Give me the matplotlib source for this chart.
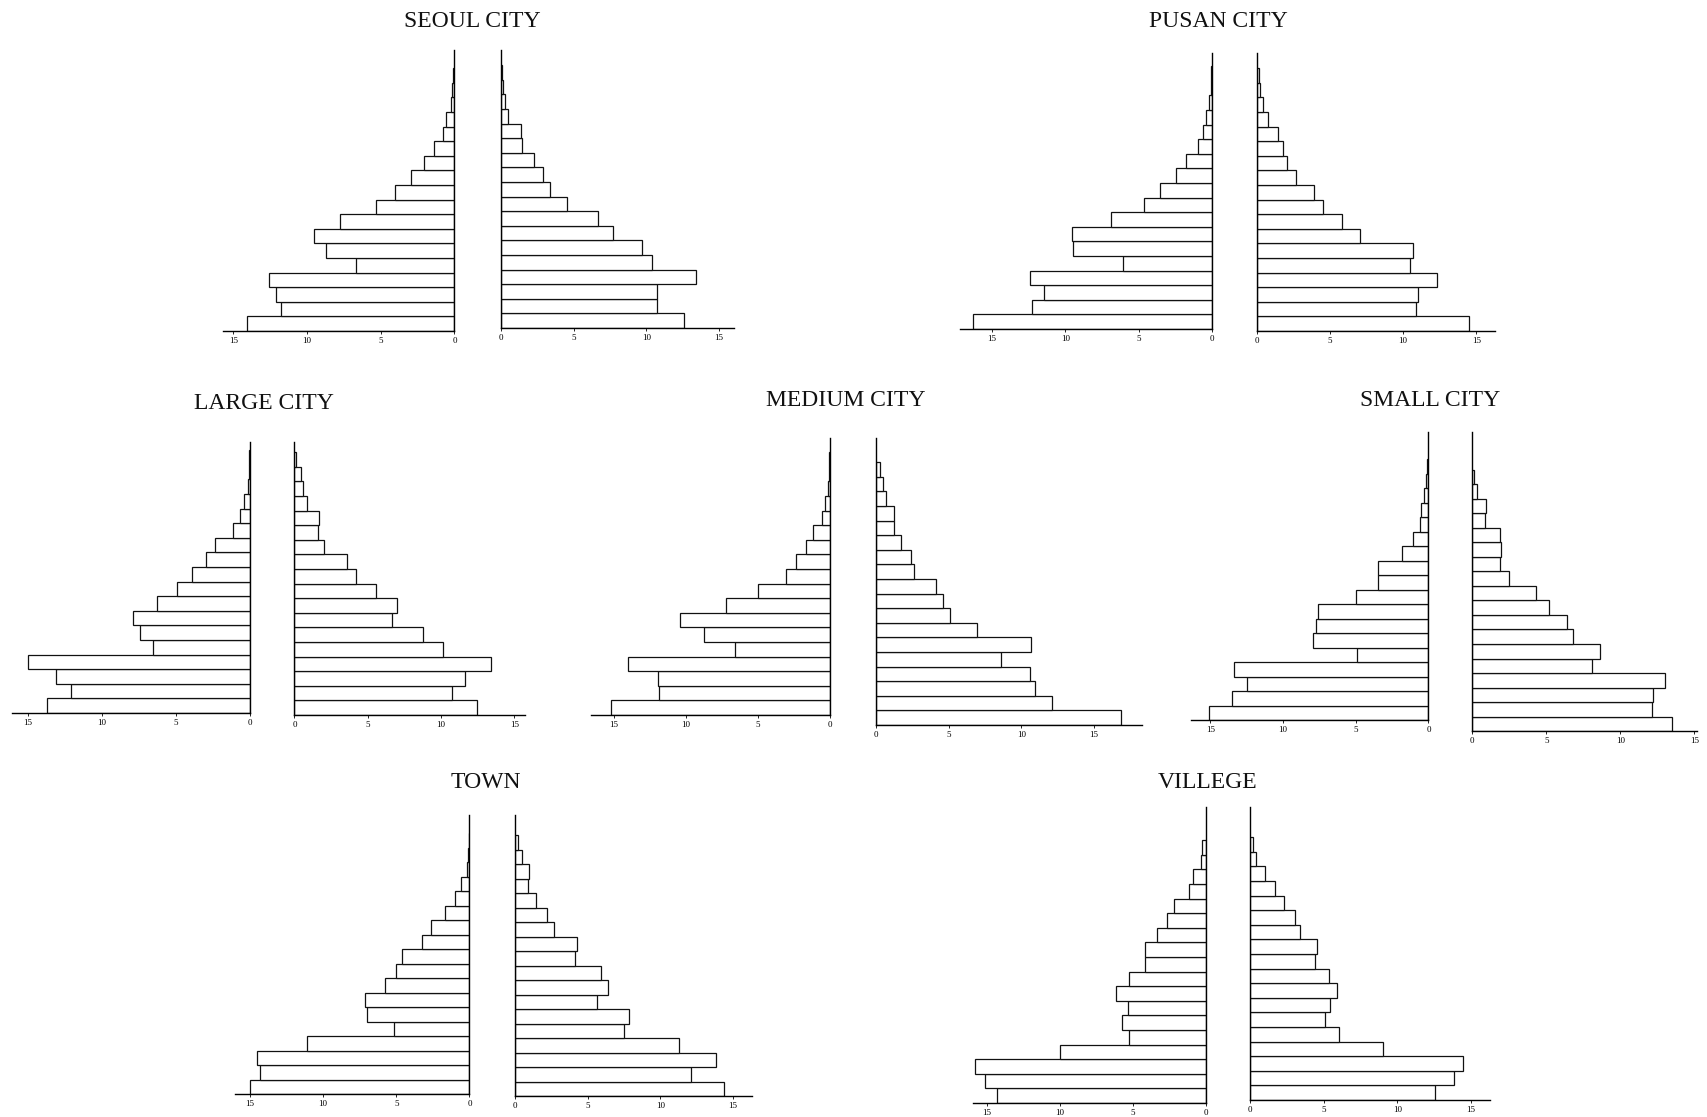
import numpy as np
import matplotlib.pyplot as plt

W, H = 1708, 1117

# 5-year age groups, youngest at the bottom (per cent of population)
age_groups = ["0-4", "5-9", "10-14", "15-19", "20-24", "25-29", "30-34", "35-39",
              "40-44", "45-49", "50-54", "55-59", "60-64", "65-69", "70-74",
              "75-79", "80-84", "85+"]

seoul_left = [14.1, 11.8, 12.1, 12.6, 6.7, 8.7, 9.55, 7.8, 5.3, 4.05, 2.95, 2.08,
              1.37, 0.75, 0.6, 0.25, 0.17, 0.1]
seoul_right = [12.6, 10.7, 10.7, 13.4, 10.4, 9.7, 7.7, 6.7, 4.55, 3.4, 2.9, 2.3,
               1.46, 1.37, 0.5, 0.3, 0.12, 0.06]

pusan_left = [16.3, 12.27, 11.46, 12.44, 6.1, 9.45, 9.57, 6.88, 4.66, 3.55, 2.47,
              1.79, 0.96, 0.6, 0.43, 0.23, 0.1, 0.05]
pusan_right = [14.5, 10.86, 10.98, 12.3, 10.45, 10.7, 7.05, 5.8, 4.53, 3.93, 2.67,
               2.04, 1.79, 1.46, 0.78, 0.4, 0.23, 0.13]

large_left = [13.7, 12.1, 13.1, 15.0, 6.54, 7.43, 7.87, 6.3, 4.95, 3.93, 2.97, 2.34,
              1.1, 0.63, 0.4, 0.12, 0.07, 0.05]
large_right = [12.44, 10.73, 11.6, 13.4, 10.1, 8.76, 6.64, 7.0, 5.59, 4.18, 3.57,
               2.04, 1.6, 1.69, 0.89, 0.59, 0.47, 0.1]

medium_left = [15.2, 11.86, 11.98, 14.05, 6.62, 8.76, 10.39, 7.22, 4.97, 3.04, 2.32,
               1.62, 1.16, 0.57, 0.34, 0.1, 0.05, 0.03]
medium_right = [16.87, 12.09, 10.94, 10.56, 8.58, 10.64, 6.95, 5.09, 4.58, 4.12,
                2.62, 2.42, 1.73, 1.27, 1.22, 0.71, 0.46, 0.3]

small_left = [15.1, 13.5, 12.5, 13.4, 4.88, 7.96, 7.75, 7.6, 5.0, 3.45, 3.47, 1.85,
              1.04, 0.6, 0.5, 0.3, 0.15, 0.08]
small_right = [13.5, 12.1, 12.2, 13.0, 8.1, 8.6, 6.8, 6.4, 5.2, 4.3, 2.45, 1.9,
               1.95, 1.9, 0.85, 0.9, 0.3, 0.15]

town_left = [14.97, 14.3, 14.55, 11.09, 5.17, 7.0, 7.16, 5.77, 5.03, 4.62, 3.23,
             2.6, 1.64, 0.97, 0.58, 0.18, 0.1, 0.05]
town_right = [14.4, 12.14, 13.8, 11.28, 7.49, 7.84, 5.63, 6.4, 5.93, 4.12, 4.28,
              2.65, 2.19, 1.44, 0.91, 0.98, 0.51, 0.2]

villege_left = [14.27, 15.1, 15.8, 9.95, 5.28, 5.76, 5.35, 6.12, 5.23, 4.2, 4.2,
                3.36, 2.64, 2.16, 1.15, 0.89, 0.36, 0.24]
villege_right = [12.57, 13.86, 14.45, 9.05, 6.07, 5.07, 5.4, 5.9, 5.36, 4.4, 4.52,
                 3.4, 3.02, 2.33, 1.67, 1.02, 0.43, 0.2]

titles = ["SEOUL CITY", "PUSAN CITY", "LARGE CITY", "MEDIUM CITY", "SMALL CITY",
          "TOWN", "VILLEGE"]
tick_values = [0, 5, 10, 15]

FONT = "Liberation Serif"

fig = plt.figure(figsize=(W / 100, H / 100), dpi=100)


def half(values, side, x_zero, scale, extent, y_bottom, y_top, bar_px):
    # scale: pixels per percent, extent: axis length in percent
    if side == "left":
        x0, x1 = x_zero - extent * scale, x_zero
    else:
        x0, x1 = x_zero, x_zero + extent * scale
    ax = fig.add_axes([x0 / W, 1 - y_bottom / H, (x1 - x0) / W, (y_bottom - y_top) / H])
    ax.patch.set_alpha(0)
    y = np.arange(len(values))
    ax.barh(y, values, height=1, align="edge", color="white",
            edgecolor="#111111", linewidth=0.9)
    ax.set_ylim(0, (y_bottom - y_top) / bar_px)
    if side == "left":
        ax.set_xlim(extent, 0)
        inner, outer = "right", "left"
    else:
        ax.set_xlim(0, extent)
        inner, outer = "left", "right"
    ax.spines["top"].set_visible(False)
    ax.spines[outer].set_visible(False)
    ax.spines[inner].set_linewidth(1.0)
    ax.spines["bottom"].set_linewidth(1.0)
    ax.set_yticks([])
    ax.set_xticks(tick_values)
    ax.set_xticklabels([str(v) for v in tick_values], fontsize=6.5, family=FONT)
    ax.tick_params(axis="x", length=2, width=0.6, pad=2)
    return ax


# layout of each pyramid in pixels:
# (left zero x, left px/unit, left extent, right zero x, right px/unit, right extent,
#  left bottom y, right bottom y, top y, bar height px, title x, title baseline y)
layout = [
    (454.5, 14.74, 15.7, 501.0, 14.54, 16.0, 331, 328, 50, 14.6, 472, 27),
    (1212, 14.67, 17.2, 1257, 14.62, 16.3, 329, 331, 53, 14.6, 1218, 27),
    (249.7, 14.77, 16.1, 294.4, 14.67, 15.7, 713, 715, 442, 14.6, 264, 409),
    (829.7, 14.37, 16.6, 876, 14.54, 18.3, 715, 725, 438, 14.6, 846, 406),
    (1428.5, 14.55, 16.3, 1472.2, 14.82, 15.2, 720, 731, 432, 14.5, 1430, 406),
    (469.4, 14.63, 16.0, 515, 14.53, 16.3, 1094, 1096, 815, 14.5, 486, 788),
    (1206, 14.63, 15.9, 1250, 14.74, 16.3, 1103, 1100, 807, 14.6, 1208, 788),
]

lefts = [seoul_left, pusan_left, large_left, medium_left, small_left, town_left,
         villege_left]
rights = [seoul_right, pusan_right, large_right, medium_right, small_right,
          town_right, villege_right]

for title, lv, rv, lay in zip(titles, lefts, rights, layout):
    lz, ls, le, rz, rs, re_, lb, rb, top, bh, tx, ty = lay
    half(lv, "left", lz, ls, le, lb, top, bh)
    half(rv, "right", rz, rs, re_, rb, top, bh)
    fig.text(tx / W, 1 - ty / H, title, ha="center", va="baseline",
             fontsize=17, family=FONT, color="#111111")

fig.savefig("out.png", dpi=100, facecolor="white")
